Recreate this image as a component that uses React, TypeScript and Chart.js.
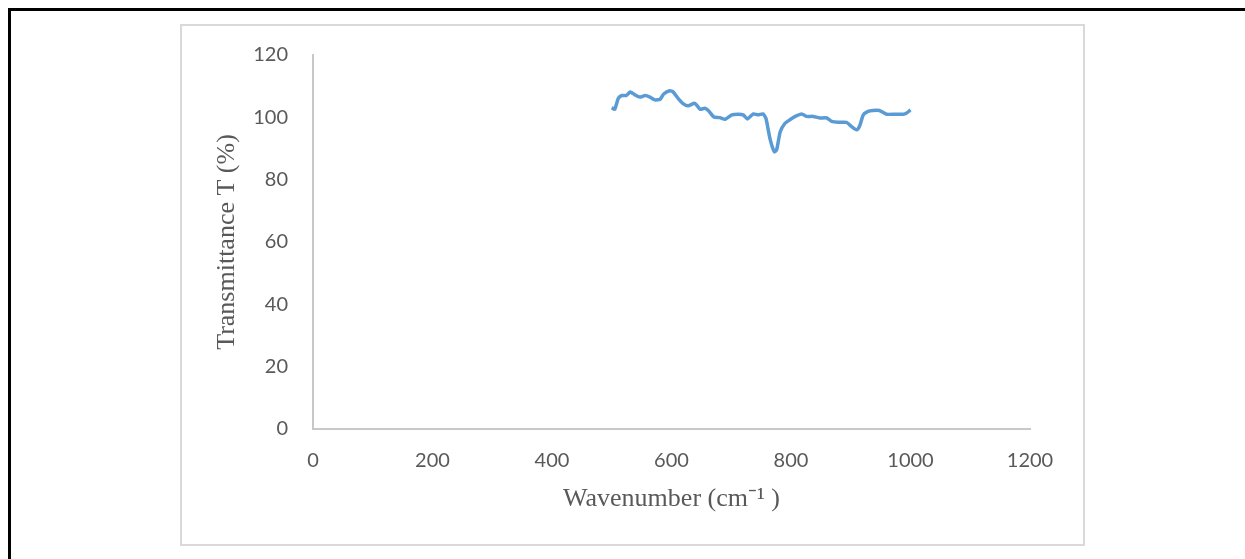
import React, { useEffect, useRef } from "react";
import { Chart, registerables } from "chart.js";

Chart.register(...registerables);

const wavenumbers = [
  500, 505, 511, 517, 524, 531, 539, 547, 556, 564, 572, 581, 587, 597, 603,
  611, 620, 628, 639, 648, 656, 662, 671, 681, 690, 701, 712, 720, 727, 737,
  745, 753, 758, 765, 772, 776, 782, 790, 798, 807, 818, 826, 837, 848, 860,
  868, 879, 893, 901, 910, 915, 921, 929, 937, 948, 960, 974, 988, 993, 1000,
];
const transmittance = [
  103.1, 102.6, 106.1, 107.0, 107.0, 108.1, 107.2, 106.5, 107.0, 106.5, 105.6,
  105.8, 107.5, 108.5, 108.1, 106.1, 104.3, 103.7, 104.5, 102.6, 102.9, 102.1,
  100.1, 99.9, 99.4, 100.8, 101.0, 100.8, 99.5, 101.1, 100.8, 101.1, 99.7, 93.0,
  89.0, 89.6, 95.4, 98.1, 99.2, 100.3, 101.1, 100.3, 100.3, 99.8, 99.8, 98.7,
  98.4, 98.4, 97.1, 96.0, 97.3, 100.8, 101.9, 102.2, 102.2, 101.0, 101.0, 101.0,
  101.3, 102.4,
];
const xTicks = [0, 200, 400, 600, 800, 1000, 1200];
const yTicks = [0, 20, 40, 60, 80, 100, 120];
const xTitle = "Wavenumber (cm\u207B\u00B9 )";
const yTitle = "Transmittance T (%)";

export default function App() {
  const ref = useRef<HTMLCanvasElement | null>(null);

  useEffect(() => {
    document.body.style.overflow = "hidden";
    if (!ref.current) return;
    const tickFont = { family: "Lato", size: 20 };
    const titleFont = { family: "Liberation Serif", size: 26 };
    const chart = new Chart(ref.current, {
      type: "line",
      data: {
        datasets: [
          {
            data: wavenumbers.map((x, i) => ({ x, y: transmittance[i] })),
            borderColor: "#5b9bd5",
            borderWidth: 3.5,
            pointRadius: 0,
            tension: 0.2,
            fill: false,
          },
        ],
      },
      options: {
        animation: false,
        responsive: false,
        layout: { padding: { left: 0, right: 53, top: 29, bottom: 0 } },
        plugins: { legend: { display: false }, tooltip: { enabled: false } },
        scales: {
          x: {
            type: "linear",
            min: xTicks[0],
            max: xTicks[xTicks.length - 1],
            afterBuildTicks: (s: any) => {
              s.ticks = xTicks.map((v) => ({ value: v }));
            },
            afterFit: (s: any) => {
              s.height = 115;
              s.paddingLeft = 0;
              s.paddingRight = 0;
            },
            grid: { drawOnChartArea: false, drawTicks: false },
            border: { display: true, color: "#c8c8c8", width: 2 },
            ticks: {
              font: tickFont,
              color: "#595959",
              padding: 20,
              maxRotation: 0,
              callback: (v: any) => String(v),
            },
            title: {
              display: true,
              text: xTitle,
              font: titleFont,
              color: "#595959",
              padding: { top: 0, bottom: 29 },
            },
          },
          y: {
            type: "linear",
            min: yTicks[0],
            max: yTicks[yTicks.length - 1],
            afterBuildTicks: (s: any) => {
              s.ticks = yTicks.map((v) => ({ value: v }));
            },
            afterFit: (s: any) => {
              s.width = 131;
              s.paddingTop = 0;
              s.paddingBottom = 0;
            },
            grid: { drawOnChartArea: false, drawTicks: false },
            border: { display: true, color: "#c8c8c8", width: 2 },
            ticks: {
              font: tickFont,
              color: "#595959",
              padding: 25,
              callback: (v: any) => String(v),
            },
            title: {
              display: true,
              text: yTitle,
              font: titleFont,
              color: "#595959",
              padding: { top: 30, bottom: 0 },
            },
          },
        },
      },
    } as any);
    return () => chart.destroy();
  }, []);

  return (
    <div>
      <div
        style={{
          position: "fixed",
          left: 8,
          top: 8,
          width: 1400,
          height: 700,
          borderTop: "3px solid #000",
          borderLeft: "3px solid #000",
          boxSizing: "border-box",
        }}
      />
      <div
        style={{
          position: "fixed",
          left: 180,
          top: 24,
          width: 905,
          height: 522,
          border: "2px solid #d9d9d9",
          boxSizing: "border-box",
          background: "#fff",
        }}
      />
      <canvas
        ref={ref}
        width={901}
        height={518}
        style={{ position: "fixed", left: 182, top: 26, width: 901, height: 518, display: "block" }}
      />
    </div>
  );
}
